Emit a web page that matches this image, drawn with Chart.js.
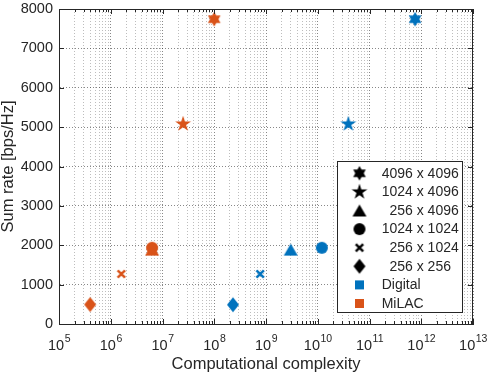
<!DOCTYPE html>
<html>
<head>
<meta charset="utf-8">
<script src="https://cdn.jsdelivr.net/npm/chart.js@4.4.1/dist/chart.umd.min.js"></script>
<style>
  html, body { margin: 0; padding: 0; background: #fff; }
</style>
</head>
<body>
<canvas id="myChart" width="489" height="376"></canvas>
<script>
// antenna configurations, one marker shape each
const configLabels = ["4096 x 4096", "1024 x 4096", "  256 x 4096", "1024 x 1024", "  256 x 1024", "  256 x 256"];
const markerShapes = ["hexagram", "pentagram", "triangle", "circle", "cross", "diamond"];

const digitalComplexity = [7.6e11, 3.9e10, 3.0e9, 1.2e10, 7.7e8, 2.3e8];
const digitalRate = [7740, 5080, 1890, 1935, 1270, 490];
const milacComplexity = [1.0e8, 2.5e7, 6.3e6, 6.3e6, 1.6e6, 4.0e5];
const milacRate = [7740, 5080, 1890, 1935, 1270, 495];

const seriesNames = ["Digital", "MiLAC"];
const seriesColors = ["#0072BD", "#D95319"];

const xDecades = [5, 6, 7, 8, 9, 10, 11, 12, 13];
const yTicks = [0, 1000, 2000, 3000, 4000, 5000, 6000, 7000, 8000];

const FONT = "'Liberation Sans', Arial, sans-serif";
const AXIS_COLOR = "#262626";

function starPath(g, n, R, r) {
  for (let i = 0; i < 2 * n; i++) {
    const a = -Math.PI / 2 + i * Math.PI / n;
    const rad = i % 2 === 0 ? R : r;
    if (i === 0) g.moveTo(rad * Math.cos(a), rad * Math.sin(a));
    else g.lineTo(rad * Math.cos(a), rad * Math.sin(a));
  }
  g.closePath();
}

function makeMarker(shape, color) {
  const c = document.createElement("canvas");
  c.width = 20;
  c.height = 20;
  const g = c.getContext("2d");
  g.translate(10, 10);
  g.fillStyle = color;
  g.strokeStyle = color;
  g.beginPath();
  if (shape === "hexagram") starPath(g, 6, 7.3, 7.3 / Math.sqrt(3));
  else if (shape === "pentagram") starPath(g, 5, 8.3, 8.3 * 0.382);
  else if (shape === "triangle") { g.moveTo(0, -6); g.lineTo(7, 6); g.lineTo(-7, 6); g.closePath(); }
  else if (shape === "circle") g.arc(0, 0, 6, 0, 2 * Math.PI);
  else if (shape === "diamond") { g.moveTo(0, -7.5); g.lineTo(6, 0); g.lineTo(0, 7.5); g.lineTo(-6, 0); g.closePath(); }

  if (shape === "cross") {
    g.lineWidth = 2.4;
    g.moveTo(-3.7, -3.7); g.lineTo(3.7, 3.7);
    g.moveTo(3.7, -3.7); g.lineTo(-3.7, 3.7);
    g.stroke();
  } else {
    g.fill();
  }
  return c;
}

const isDecade = v => Math.abs(Math.log10(v) - Math.round(Math.log10(v))) < 1e-9;

// every 1..9 x 10^n position, for grid and minor ticks
const xTickValues = [];
xDecades.forEach((d, i) => {
  if (i === xDecades.length - 1) { xTickValues.push(Math.pow(10, d)); return; }
  for (let m = 1; m <= 9; m++) xTickValues.push(m * Math.pow(10, d));
});

const datasets = [];
const sources = [[digitalComplexity, digitalRate], [milacComplexity, milacRate]];
sources.forEach((src, s) => {
  markerShapes.forEach((shape, k) => {
    datasets.push({
      label: seriesNames[s] + " " + configLabels[k].trim(),
      data: [{ x: src[0][k], y: src[1][k] }],
      pointStyle: makeMarker(shape, seriesColors[s]),
      pointRadius: 8,
      showLine: false
    });
  });
});
datasets.forEach((ds, i) => { ds.order = -i; });

const frameAndLegend = {
  id: "frameAndLegend",
  afterDatasetsDraw(chart) {
    const { ctx, chartArea: a, scales } = chart;
    const xs = scales.x, ys = scales.y;
    ctx.save();
    ctx.strokeStyle = AXIS_COLOR;
    ctx.lineWidth = 1;
    ctx.beginPath();
    // top and right edges of the box
    ctx.moveTo(a.left, Math.round(a.top) + 0.5);
    ctx.lineTo(a.right, Math.round(a.top) + 0.5);
    ctx.moveTo(Math.round(a.right) - 0.5, a.top);
    ctx.lineTo(Math.round(a.right) - 0.5, a.bottom);
    // inward ticks
    xs.ticks.forEach(t => {
      const px = Math.round(xs.getPixelForValue(t.value)) + 0.5;
      const len = isDecade(t.value) ? 5 : 3;
      ctx.moveTo(px, a.bottom); ctx.lineTo(px, a.bottom - len);
      ctx.moveTo(px, a.top); ctx.lineTo(px, a.top + len);
    });
    ys.ticks.forEach(t => {
      const py = Math.round(ys.getPixelForValue(t.value)) + 0.5;
      ctx.moveTo(a.left, py); ctx.lineTo(a.left + 5, py);
      ctx.moveTo(a.right, py); ctx.lineTo(a.right - 5, py);
    });
    ctx.stroke();

    // legend box
    const bx = 337.5, by = 161.5, bw = 125, bh = 151;
    ctx.fillStyle = "#fff";
    ctx.fillRect(bx, by, bw, bh);
    ctx.strokeRect(bx, by, bw, bh);
    const rowH = 18.6, y0 = 173.3, mx = 359.5, tx = 381.7;
    ctx.font = "14px " + FONT;
    ctx.textBaseline = "middle";
    ctx.textAlign = "left";
    ctx.fillStyle = AXIS_COLOR;
    configLabels.forEach((lab, k) => {
      const y = y0 + k * rowH;
      ctx.drawImage(makeMarker(markerShapes[k], "#000"), mx - 10, y - 10);
      ctx.fillText(lab, tx, y + 0.5);
    });
    seriesNames.forEach((name, s) => {
      const y = y0 + (configLabels.length + s) * rowH;
      ctx.fillStyle = seriesColors[s];
      ctx.fillRect(mx - 4.5, y - 4.5, 9, 9);
      ctx.fillStyle = AXIS_COLOR;
      ctx.fillText(name, tx, y + 0.5);
    });
    ctx.restore();
  },
  afterDraw(chart) {
    // x tick labels as 10 with a raised exponent
    const { ctx, scales } = chart;
    const xs = scales.x;
    ctx.save();
    ctx.fillStyle = AXIS_COLOR;
    ctx.textBaseline = "alphabetic";
    ctx.textAlign = "left";
    xDecades.forEach(d => {
      const px = xs.getPixelForValue(Math.pow(10, d));
      ctx.font = "14.5px " + FONT;
      const wBase = ctx.measureText("10").width;
      ctx.font = "10.5px " + FONT;
      const wExp = ctx.measureText(String(d)).width;
      const left = px - (wBase + wExp) / 2;
      ctx.font = "14.5px " + FONT;
      ctx.fillText("10", left, 350);
      ctx.font = "10.5px " + FONT;
      ctx.fillText(String(d), left + wBase + 0.5, 342);
    });
    ctx.restore();
  }
};

Chart.defaults.font.family = FONT;
Chart.defaults.color = AXIS_COLOR;

const ctx = document.getElementById("myChart").getContext("2d");
const chart = new Chart(ctx, {
  type: "scatter",
  data: { datasets },
  options: {
    responsive: false,
    animation: false,
    devicePixelRatio: 1,
    layout: { padding: { top: 5, right: 16, left: 0, bottom: 0 } },
    plugins: { legend: { display: false }, tooltip: { enabled: false } },
    scales: {
      x: {
        type: "logarithmic",
        min: 1e5,
        max: 1e13,
        afterBuildTicks: s => { s.ticks = xTickValues.map(v => ({ value: v })); },
        afterFit: s => { s.height = 52; s.paddingLeft = 0; s.paddingRight = 0; },
        ticks: { display: false },
        grid: {
          drawTicks: false,
          color: c => (c.tick && isDecade(c.tick.value)) ? "rgba(38,38,38,0.55)" : "rgba(38,38,38,0.3)"
        },
        border: { color: AXIS_COLOR, width: 1, dash: [1, 2] },
        title: {
          display: true,
          text: "Computational complexity",
          font: { size: 16.5, lineHeight: 1 },
          padding: { top: 0, bottom: 3.5 }
        }
      },
      y: {
        type: "linear",
        min: 0,
        max: 8000,
        afterBuildTicks: s => { s.ticks = yTicks.map(v => ({ value: v })); },
        afterFit: s => { s.width = 59; s.paddingTop = 0; s.paddingBottom = 0; },
        ticks: { font: { size: 14.5 }, padding: 6, callback: v => String(v) },
        grid: { drawTicks: false, color: "rgba(38,38,38,0.55)" },
        border: { color: AXIS_COLOR, width: 1, dash: [1, 2] },
        title: {
          display: true,
          text: "Sum rate [bps/Hz]",
          font: { size: 16.5, lineHeight: 1 },
          padding: { top: 0.5, bottom: 0 }
        }
      }
    }
  },
  plugins: [frameAndLegend]
});
</script>
</body>
</html>
